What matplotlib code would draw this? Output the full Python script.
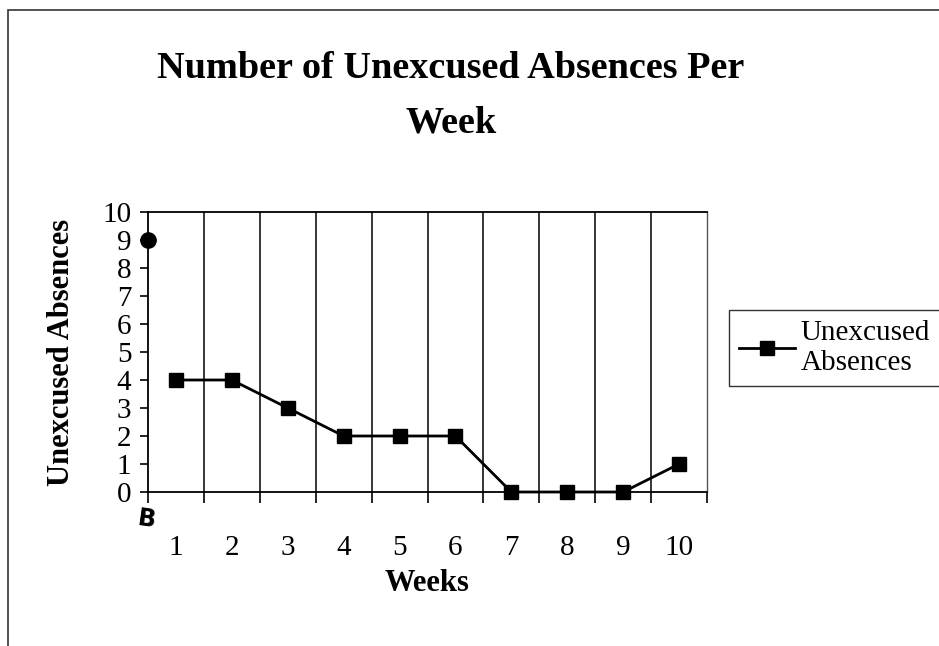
"""
Unexcused absences per week, Excel style line chart
"""
import matplotlib.pyplot as plt
from matplotlib.patches import Rectangle

weeks = [1, 2, 3, 4, 5, 6, 7, 8, 9, 10]
absences = [4, 4, 3, 2, 2, 2, 0, 0, 0, 1]
baseline_label = 'B'
baseline_value = 9
y_ticks = list(range(0, 11))

plt.rcParams['font.family'] = ['Liberation Serif', 'DejaVu Serif']

fig = plt.figure(figsize=(9.39, 6.46), dpi=100)
ax = fig.add_axes([148 / 939, 1 - 492 / 646, (707 - 148) / 939, (492 - 212) / 646])

# outer chart border (cut off at right and bottom in the scan)
fig.patches.append(Rectangle((8 / 939, -0.1), 1.2, 1 - 10 / 646 + 0.1,
                             transform=fig.transFigure, fill=False,
                             edgecolor='#333333', linewidth=1.2))

ax.plot(weeks, absences, color='black', linewidth=2, marker='s',
        markersize=10, label='Unexcused\nAbsences', clip_on=False, zorder=3)

# hand marked baseline point
ax.plot([0.5], [baseline_value], marker='o', color='black', markersize=11,
        clip_on=False, zorder=4)
ax.text(0.47, -0.5, baseline_label, ha='center', va='top', fontsize=17,
        fontweight='bold', family='DejaVu Sans', rotation=-8)

ax.set_xlim(0.5, 10.5)
ax.set_ylim(0, 10)
ax.set_yticks(y_ticks)
ax.set_xticks(weeks)
ax.set_xticks([w + 0.5 for w in [0] + weeks], minor=True)
ax.tick_params(axis='x', which='major', length=0, labelsize=21, pad=31)
ax.tick_params(axis='x', which='minor', length=8, width=1.2, direction='out')
ax.tick_params(axis='y', length=6, width=1.2, direction='out', labelsize=21, pad=6)

for w in weeks[:-1]:
    ax.axvline(w + 0.5, color='black', linewidth=1.1, zorder=1)

for side in ['left', 'bottom', 'top']:
    ax.spines[side].set_linewidth(1.3)
ax.spines['right'].set_linewidth(1.0)
ax.spines['right'].set_color('#555555')

fig.text(451 / 939, 1 - 68 / 646, 'Number of Unexcused Absences Per',
         ha='center', va='center', fontsize=27.5, fontweight='bold')
fig.text(451 / 939, 1 - 123 / 646, 'Week',
         ha='center', va='center', fontsize=27.5, fontweight='bold')

ax.set_xlabel('Weeks', fontsize=22, fontweight='bold', labelpad=6)
ax.set_ylabel('Unexcused Absences', fontsize=22, fontweight='bold', labelpad=19)

leg = ax.legend(loc='upper left', bbox_to_anchor=(729 / 939, 1 - 310 / 646),
                bbox_transform=fig.transFigure, fontsize=21, frameon=True,
                fancybox=False, borderpad=0.35, handlelength=1.9,
                handletextpad=0.2, borderaxespad=0, labelspacing=0.35)
leg.get_frame().set_edgecolor('black')
leg.get_frame().set_linewidth(1.0)

fig.savefig('out.png', dpi=100)
